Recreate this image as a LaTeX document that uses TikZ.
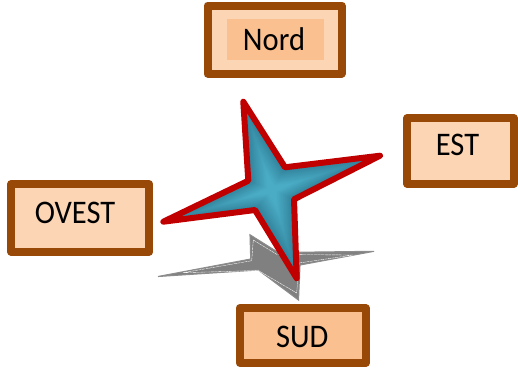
\documentclass[tikz,border=0pt]{standalone}
\usepackage{fontspec}
\setmainfont{Carlito}
\definecolor{boxedge}{HTML}{984807}
\definecolor{boxlight}{HTML}{FCD5B5}
\definecolor{boxmid}{HTML}{FAC090}
\definecolor{starred}{HTML}{C00000}
\definecolor{stardark}{HTML}{2F7F97}
\definecolor{starlight}{HTML}{4BACC6}
\newcommand{\starpath}{(-28.7,-88.3) -- (13,-22.7) -- (108,-34.3) -- (22,9.3) -- (24.7,88.3) -- (-17,20) -- (-108.7,31.7) -- (-23.7,-9.3) -- cycle}
\tikzset{
  compass/.style={draw=boxedge,line width=8pt,line join=round,fill=boxlight,anchor=north west,inner sep=0pt,outer sep=0pt},
  lab/.style={font=\fontsize{30.5}{31}\selectfont,text=black,inner sep=0pt,yscale=1.08},
}
\begin{document}
\begin{tikzpicture}[x=1pt,y=-1pt]
\useasboundingbox (0,0) rectangle (518,367);
\node[compass,minimum width=134pt,minimum height=68pt] (nordbox) at (207.5,5.5) {};
\node[fill=boxmid,inner sep=0pt,minimum width=97pt,minimum height=41pt] (nordinner) at (275.5,39.5) {};
\node[lab] (nord) at (274,39) {Nord};
\node[compass,minimum width=106.4pt,minimum height=65.7pt] (estbox) at (407.3,118) {};
\node[lab] (est) at (457.5,145) {EST};
\node[compass,minimum width=138pt,minimum height=67.7pt] (ouestbox) at (11.3,184) {};
\node[lab] (ouest) at (75,213) {OVEST};
\node[compass,fill=boxmid,minimum width=126pt,minimum height=55pt] (sudbox) at (239.7,308) {};
\node[lab] (sud) at (302.3,337) {SUD};
% shadow
\draw[draw=black!45,line width=1.1pt,fill=black!50,line join=miter]
  (250,234.8) -- (278.3,252.5) -- (374,251.3) -- (300,265) -- (298.5,300) -- (258.3,270) -- (158,276.5) -- (250.7,259) -- cycle;
\draw[white,line width=0.35pt,dash pattern=on 3pt off 0.6pt]
  (253.3,240) -- (277,254.5) -- (353,255) -- (299,263) -- (296.7,293) -- (258.3,270.5) -- (183,272.7) -- (251.7,260.7) -- cycle;
% star
\begin{scope}[shift={(272,190)}]
\fill[stardark] \starpath;
\foreach \s in {97,94,...,7}{
  \pgfmathsetmacro{\p}{min(100,(100-\s)*1.25)}
  \fill[starlight!\p!stardark,scale=\s/100] \starpath;
}
\draw[starred,line width=6pt,line join=round] \starpath;
\end{scope}
\end{tikzpicture}
\end{document}
